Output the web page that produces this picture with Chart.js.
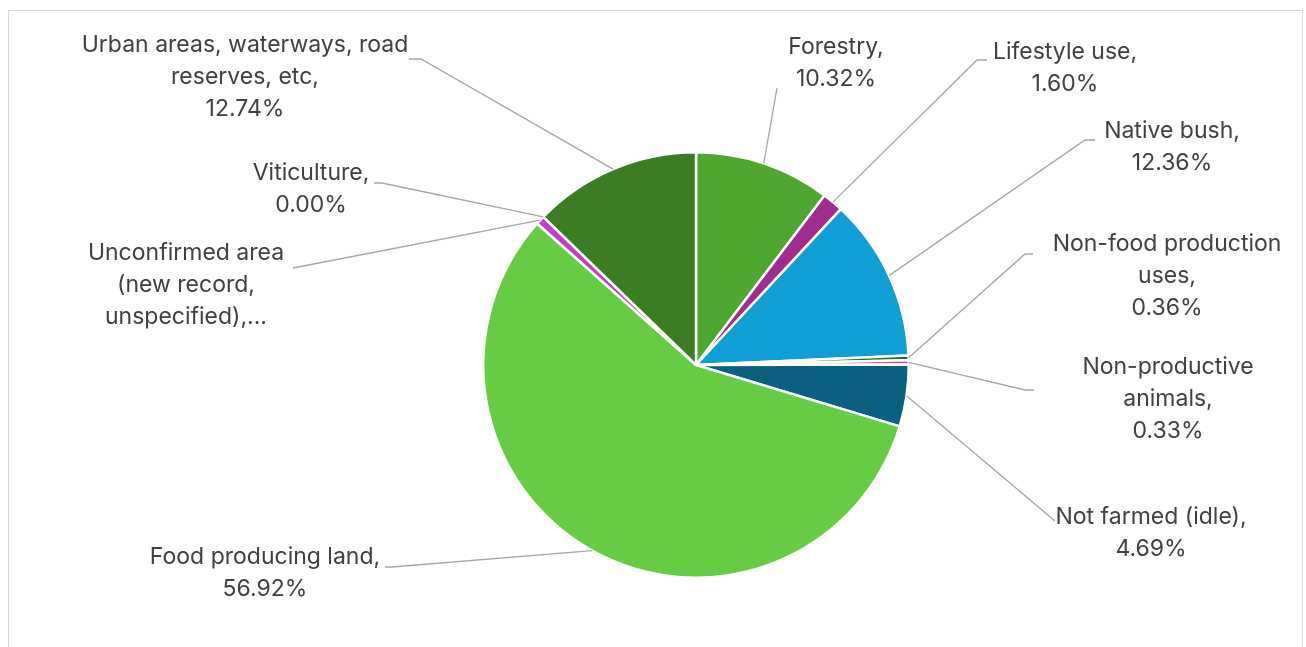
<!DOCTYPE html>
<html>
<head>
<meta charset="utf-8">
<script src="https://cdn.jsdelivr.net/npm/chart.js@4.4.1/dist/chart.umd.min.js"></script>
<style>
  html, body { margin: 0; padding: 0; background: #fff; overflow: hidden; }
  #wrap { position: absolute; left: 0; top: 0; width: 1306px; height: 647px; }
  #frame { position: absolute; left: 8px; top: 10px; width: 1295px; height: 660px; border: 1px solid #d9d9d9; box-sizing: border-box; }
</style>
</head>
<body>
<div id="frame"></div>
<div id="wrap"><canvas id="landChart"></canvas></div>
<script>
// land use shares, clockwise from 12 o'clock
const categories = ['Forestry', 'Lifestyle use', 'Native bush', 'Non-food production uses',
  'Non-productive animals', 'Not farmed (idle)', 'Food producing land',
  'Unconfirmed area (new record, unspecified)', 'Viticulture', 'Urban areas, waterways, road reserves, etc'];
const shares = [10.32, 1.60, 12.36, 0.36, 0.33, 4.69, 56.92, 0.68, 0.00, 12.74];
const sliceColors = ['#4ea72e', '#a02b93', '#0f9ed5', '#196b24', '#b04ca5', '#0b5f80',
  '#66cc44', '#c83cc3', '#7f3f98', '#3b7d23'];

// how each data label is wrapped (the percent line is added after)
const labelWrap = [
  ['Forestry,'],
  ['Lifestyle use,'],
  ['Native bush,'],
  ['Non-food production', 'uses,'],
  ['Non-productive', 'animals,'],
  ['Not farmed (idle),'],
  ['Food producing land,'],
  ['Unconfirmed area', '(new record,', 'unspecified),...'],
  ['Viticulture,'],
  ['Urban areas, waterways, road', 'reserves, etc,']
];
const showPct = [true, true, true, true, true, true, true, false, true, true];

// label placement: centre x, first line y, leader elbow and end
const labelPos = [
  { cx: 836, y: 47, leader: [[777, 88]] },
  { cx: 1065, y: 52, leader: [[977, 60], [987, 60]] },
  { cx: 1172, y: 131, leader: [[1085, 140], [1095, 140]] },
  { cx: 1167, y: 244, leader: [[1025, 254], [1033, 254]] },
  { cx: 1168, y: 367, leader: [[1025, 390], [1034, 390]] },
  { cx: 1151, y: 517, leader: [[1055, 521]] },
  { cx: 265, y: 557, leader: [[392, 567], [385, 567]] },
  { cx: 186, y: 253, leader: [[293, 268]] },
  { cx: 311, y: 173, leader: [[382, 183], [374, 183]] },
  { cx: 245, y: 45, leader: [[421, 59], [409, 59]] }
];

const FONT = '23px Inter, "Open Sans", sans-serif';
const LINE_H = 32;

const calloutLabels = {
  id: 'calloutLabels',
  afterDatasetsDraw(chart) {
    const ctx = chart.ctx;
    const arcs = chart.getDatasetMeta(0).data;
    ctx.save();
    arcs.forEach((arc, i) => {
      const p = arc.getProps(['x', 'y', 'startAngle', 'endAngle', 'outerRadius'], true);
      const mid = (p.startAngle + p.endAngle) / 2;
      const sx = p.x + Math.cos(mid) * p.outerRadius;
      const sy = p.y + Math.sin(mid) * p.outerRadius;
      const pos = labelPos[i];
      ctx.beginPath();
      ctx.moveTo(sx, sy);
      pos.leader.forEach(pt => ctx.lineTo(pt[0], pt[1]));
      ctx.strokeStyle = '#a6a6a6';
      ctx.lineWidth = 1.3;
      ctx.stroke();

      const lines = labelWrap[i].slice();
      if (showPct[i]) lines.push(shares[i].toFixed(2) + '%');
      ctx.font = FONT;
      ctx.fillStyle = '#404040';
      ctx.textAlign = 'center';
      ctx.textBaseline = 'middle';
      lines.forEach((t, k) => ctx.fillText(t, pos.cx, pos.y + k * LINE_H));
    });
    ctx.restore();
  }
};

new Chart(document.getElementById('landChart'), {
  type: 'pie',
  data: {
    labels: categories,
    datasets: [{
      data: shares,
      backgroundColor: sliceColors,
      borderColor: '#ffffff',
      borderWidth: 2.5
    }]
  },
  options: {
    responsive: true,
    maintainAspectRatio: false,
    animation: false,
    layout: { padding: { top: 151, bottom: 68, left: 300, right: 214 } },
    plugins: {
      legend: { display: false },
      tooltip: { enabled: false }
    }
  },
  plugins: [calloutLabels]
});
</script>
</body>
</html>
